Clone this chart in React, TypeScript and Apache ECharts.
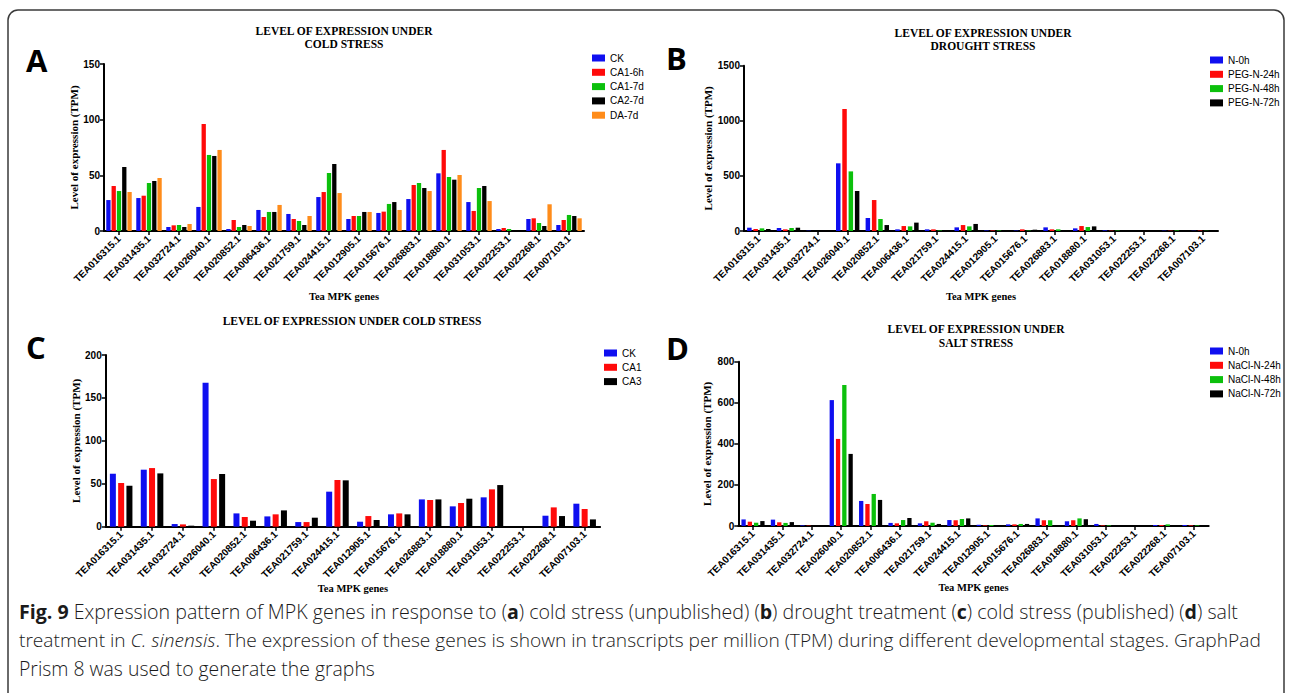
import React, { useEffect, useRef } from "react";
import * as echarts from "echarts";

const categories = [
  "TEA016315.1", "TEA031435.1", "TEA032724.1", "TEA026040.1", "TEA020852.1", "TEA006436.1",
  "TEA021759.1", "TEA024415.1", "TEA012905.1", "TEA015676.1", "TEA026883.1", "TEA018880.1",
  "TEA031053.1", "TEA022253.1", "TEA022268.1", "TEA007103.1",
];

// Panel A - cold stress (unpublished)
const aNames = ["CK", "CA1-6h", "CA1-7d", "CA2-7d", "DA-7d"];
const aCK = [27.8, 29.6, 3.6, 21.6, 1.8, 18.9, 15.3, 30.5, 10.8, 16.2, 28.7, 51.8, 26.0, 1.8, 10.8, 5.4];
const aCA16h = [40.4, 31.7, 5.1, 96.1, 9.9, 12.6, 10.8, 35.0, 13.5, 17.4, 41.3, 72.8, 18.0, 2.7, 11.4, 9.9];
const aCA17d = [35.9, 43.1, 5.4, 68.3, 3.6, 17.1, 9.0, 52.1, 13.5, 24.3, 43.1, 48.5, 38.6, 1.8, 7.2, 14.4];
const aCA27d = [57.5, 44.9, 3.6, 67.4, 5.4, 17.1, 5.4, 60.2, 17.1, 26.0, 38.6, 46.1, 40.4, 0.9, 4.5, 13.5];
const aDA7d = [35.0, 47.6, 6.3, 72.8, 4.5, 23.4, 13.5, 34.1, 17.1, 18.9, 35.9, 50.3, 26.9, 0, 24.0, 11.4];

// Panel B - drought stress
const bNames = ["N-0h", "PEG-N-24h", "PEG-N-48h", "PEG-N-72h"];
const bN0 = [30, 27, 3, 614, 118, 15, 15, 33, 5, 4, 33, 24, 6, 0, 3, 2];
const bP24 = [18, 15, 0, 1107, 281, 45, 15, 54, 5, 15, 15, 45, 3, 0, 3, 4];
const bP48 = [24, 27, 0, 541, 109, 42, 5, 42, 5, 4, 15, 36, 4, 0, 5, 2];
const bP72 = [18, 30, 0, 363, 54, 76, 5, 64, 3, 12, 3, 42, 3, 0, 3, 1];

// Panel C - cold stress (published)
const cNames = ["CK", "CA1", "CA3"];
const cCK = [61.7, 66.4, 3.1, 167.8, 15.5, 12.0, 5.4, 40.8, 5.8, 14.4, 31.8, 23.7, 34.2, 0, 12.8, 26.8];
const cCA1 = [50.9, 68.3, 2.7, 55.5, 11.3, 14.4, 5.4, 54.4, 12.4, 15.5, 31.1, 27.6, 43.5, 0, 22.5, 20.6];
const cCA3 = [47.8, 62.1, 1.2, 61.4, 7.0, 19.0, 10.5, 54.0, 7.8, 14.4, 31.8, 32.6, 48.5, 0, 12.4, 8.5];

// Panel D - salt stress
const dNames = ["N-0h", "NaCl-N-24h", "NaCl-N-48h", "NaCl-N-72h"];
const dN0 = [32, 31, 3, 613, 122, 15, 13, 29, 6, 8, 37, 23, 10, 0, 5, 5];
const dN24 = [21, 18, 2, 424, 107, 13, 23, 28, 3, 8, 28, 28, 3, 0, 5, 3];
const dN48 = [16, 15, 0, 687, 156, 29, 16, 34, 5, 10, 28, 37, 3, 0, 8, 3];
const dN72 = [24, 19, 0, 351, 127, 39, 10, 37, 2, 10, 5, 33, 3, 0, 3, 2];

const aTicks = { max: 150, interval: 50 };
const bTicks = { max: 1500, interval: 500 };
const cTicks = { max: 200, interval: 50 };
const dTicks = { max: 800, interval: 200 };

const BLUE = "#0f0ff0";
const RED = "#ff0a0a";
const GREEN = "#0cc00c";
const BLACK = "#000000";
const ORANGE = "#ff8c1a";

const SANS = "'Liberation Sans', Arial, sans-serif";
const SERIF = "'Liberation Serif', 'Times New Roman', serif";

export default function App() {
  const ref = useRef<HTMLDivElement>(null);

  useEffect(() => {
    if (!ref.current) return;
    const chart = echarts.init(ref.current, undefined, { renderer: "svg" });

    const grids = [
      { left: 104, top: 64, width: 480, height: 167 },
      { left: 744, top: 65.7, width: 474, height: 165.3 },
      { left: 105.7, top: 355, width: 494.4, height: 171.7 },
      { left: 738.3, top: 361.7, width: 470.4, height: 164.3 },
    ];
    const nameGaps = [60, 60, 52, 52];

    const xAxis = grids.map((_, i) => ({
      type: "category",
      gridIndex: i,
      data: categories,
      boundaryGap: true,
      axisLine: { show: true, lineStyle: { color: "#000", width: 2 } },
      axisTick: { show: true, alignWithLabel: true, length: 4, lineStyle: { color: "#000", width: 1.5 } },
      axisLabel: {
        interval: 0,
        rotate: 45,
        margin: 6,
        fontSize: 10,
        fontWeight: "bold",
        fontFamily: SANS,
        color: "#000",
      },
      name: "Tea MPK genes",
      nameLocation: "middle",
      nameGap: nameGaps[i],
      nameTextStyle: { fontFamily: SERIF, fontWeight: "bold", fontSize: 10.5, color: "#000" },
      splitLine: { show: false },
    }));

    const ticks = [aTicks, bTicks, cTicks, dTicks];
    const yAxis = ticks.map((t, i) => ({
      type: "value",
      gridIndex: i,
      min: 0,
      max: t.max,
      interval: t.interval,
      axisLine: { show: true, lineStyle: { color: "#000", width: 2 } },
      axisTick: { show: true, length: 4, lineStyle: { color: "#000", width: 1.5 } },
      axisLabel: {
        fontSize: 10,
        fontWeight: "bold",
        fontFamily: SANS,
        color: "#000",
        margin: 4,
        formatter: (v: number) => String(v),
      },
      splitLine: { show: false },
      name: "Level of expression (TPM)",
      nameLocation: "middle",
      nameRotate: 90,
      nameGap: i === 1 || i === 3 ? 26 : 23,
      nameTextStyle: { fontFamily: SERIF, fontWeight: "bold", fontSize: 11, color: "#000" },
    }));

    const mk = (name: string, data: number[], idx: number, color: string, barWidth: number, barGap: string) => ({
      type: "bar",
      name,
      data,
      xAxisIndex: idx,
      yAxisIndex: idx,
      barWidth,
      barGap,
      itemStyle: { color },
      emphasis: { disabled: true },
    });

    const series = [
      mk(aNames[0], aCK, 0, BLUE, 4.3, "23%"),
      mk(aNames[1], aCA16h, 0, RED, 4.3, "23%"),
      mk(aNames[2], aCA17d, 0, GREEN, 4.3, "23%"),
      mk(aNames[3], aCA27d, 0, BLACK, 4.3, "23%"),
      mk(aNames[4], aDA7d, 0, ORANGE, 4.3, "23%"),
      mk(bNames[0], bN0, 1, BLUE, 4.5, "40%"),
      mk(bNames[1], bP24, 1, RED, 4.5, "40%"),
      mk(bNames[2], bP48, 1, GREEN, 4.5, "40%"),
      mk(bNames[3], bP72, 1, BLACK, 4.5, "40%"),
      mk(cNames[0], cCK, 2, BLUE, 6, "38%"),
      mk(cNames[1], cCA1, 2, RED, 6, "38%"),
      mk(cNames[2], cCA3, 2, BLACK, 6, "38%"),
      mk(dNames[0], dN0, 3, BLUE, 4.3, "46%"),
      mk(dNames[1], dN24, 3, RED, 4.3, "46%"),
      mk(dNames[2], dN48, 3, GREEN, 4.3, "46%"),
      mk(dNames[3], dN72, 3, BLACK, 4.3, "46%"),
    ];

    const legendBase = {
      orient: "vertical",
      icon: "rect",
      itemWidth: 13,
      itemHeight: 7,
      itemGap: 4.3,
      selectedMode: false,
      textStyle: { fontSize: 10, fontFamily: SANS, color: "#000" },
    };
    const legend = [
      { ...legendBase, data: aNames, left: 587, top: 48 },
      { ...legendBase, data: bNames, left: 1205, top: 50 },
      { ...legendBase, data: cNames, left: 599, top: 343 },
      { ...legendBase, data: dNames, left: 1205, top: 341 },
    ];

    const titleText = (x: number, y: number, text: string) => ({
      type: "text",
      x,
      y,
      silent: true,
      style: {
        text,
        fontFamily: SERIF,
        fontWeight: "bold",
        fontSize: 11.5,
        fill: "#000",
        align: "center",
        verticalAlign: "middle",
      },
    });
    const letter = (x: number, y: number, text: string) => ({
      type: "text",
      x,
      y,
      silent: true,
      style: {
        text,
        fontFamily: "'Open Sans', sans-serif",
        fontWeight: "bold",
        fontSize: 31,
        fill: "#000",
        align: "left",
        verticalAlign: "middle",
      },
    });

    const capFont = "'Open Sans', 'Noto Sans', sans-serif";
    const richFor = (size: number) => ({
      b: { fontWeight: "bold", fontSize: size, fontFamily: capFont, fill: "#1a1a1a" },
      i: { fontStyle: "italic", fontWeight: 300, fontSize: size, fontFamily: capFont, fill: "#1a1a1a" },
      n: { fontWeight: 300, fontSize: size, fontFamily: capFont, fill: "#1a1a1a" },
    });
    const capLine = (y: number, size: number, text: string) => ({
      type: "text",
      x: 19,
      y,
      silent: true,
      style: {
        text,
        rich: richFor(size),
        fontFamily: capFont,
        fontSize: size,
        fontWeight: 300,
        fill: "#1a1a1a",
        align: "left",
        verticalAlign: "middle",
      },
    });

    const graphic = [
      {
        type: "rect",
        silent: true,
        shape: { x: 8, y: 10, width: 1276, height: 720, r: 10 },
        style: { fill: "none", stroke: "#3a3a3a", lineWidth: 1.5 },
      },
      titleText(344, 31, "LEVEL OF EXPRESSION UNDER"),
      titleText(344, 44, "COLD STRESS"),
      titleText(983, 33, "LEVEL OF EXPRESSION UNDER"),
      titleText(983, 46, "DROUGHT STRESS"),
      titleText(352, 321, "LEVEL OF EXPRESSION UNDER COLD STRESS"),
      titleText(976, 329, "LEVEL OF EXPRESSION UNDER"),
      titleText(976, 342.5, "SALT STRESS"),
      letter(26, 60, "A"),
      letter(666, 58, "B"),
      letter(26, 347, "C"),
      letter(666, 348, "D"),
      capLine(
        611,
        19.6,
        "{b|Fig. 9}{n| Expression pattern of MPK genes in response to (}{b|a}{n|) cold stress (unpublished) (}{b|b}{n|) drought treatment (}{b|c}{n|) cold stress (published) (}{b|d}{n|) salt}"
      ),
      capLine(
        640,
        19.15,
        "{n|treatment in }{i|C. sinensis}{n|. The expression of these genes is shown in transcripts per million (TPM) during different developmental stages. GraphPad}"
      ),
      capLine(668, 19.4, "{n|Prism 8 was used to generate the graphs}"),
    ];

    chart.setOption({
      animation: false,
      backgroundColor: "#ffffff",
      grid: grids,
      xAxis,
      yAxis,
      legend,
      series,
      graphic,
    } as any);

    return () => chart.dispose();
  }, []);

  return (
    <div
      ref={ref}
      style={{ position: "absolute", left: 0, top: 0, width: 1290, height: 693, background: "#fff" }}
    />
  );
}
